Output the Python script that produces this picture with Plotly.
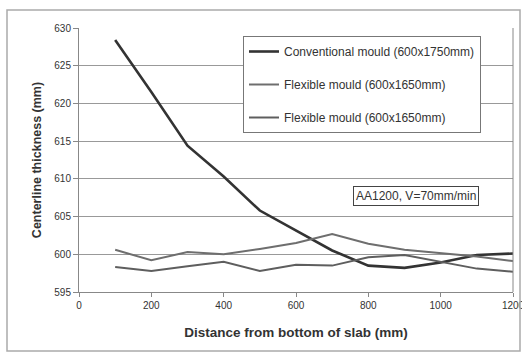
import plotly.graph_objects as go

distance = [100, 200, 300, 400, 500, 600, 700, 800, 900, 1000, 1100, 1200]
conventional = [628.4, 621.5, 614.4, 610.3, 605.8, 603.2, 600.5, 598.5, 598.2, 598.9, 599.9, 600.1]
flexible_1 = [600.6, 599.2, 600.3, 600.0, 600.7, 601.5, 602.7, 601.4, 600.6, 600.2, 599.7, 599.1]
flexible_2 = [598.3, 597.8, 598.4, 599.0, 597.8, 598.6, 598.5, 599.6, 599.9, 599.0, 598.1, 597.7]

names = ["Conventional mould (600x1750mm)", "Flexible mould (600x1650mm)", "Flexible mould (600x1650mm)"]
x_ticks = [0, 200, 400, 600, 800, 1000, 1200]
y_ticks = [595, 600, 605, 610, 615, 620, 625, 630]

# target plot area in page pixels
L, R, T, B = 79, 513, 28, 292
W, H = R - L, B - T


def px(x):
    return (x - L) / W


def py(y):
    return (B - y) / H


fig = go.Figure()
fig.add_trace(go.Scatter(x=distance, y=conventional, mode="lines", name=names[0],
                         line=dict(color="#333333", width=2.6), legendgroup="a"))
fig.add_trace(go.Scatter(x=distance, y=flexible_1, mode="lines", name=names[1],
                         line=dict(color="#6e6e6e", width=2), legendgroup="b"))
fig.add_trace(go.Scatter(x=distance, y=flexible_2, mode="lines", name=names[2],
                         line=dict(color="#5e5e5e", width=2), legendgroup="c"))

fig.update_layout(
    width=522, height=354,
    margin=dict(l=L, r=522 - R, t=T, b=354 - B, autoexpand=False),
    paper_bgcolor="white", plot_bgcolor="white",
    font=dict(family="Liberation Sans, Arial, sans-serif", size=10, color="#333333"),
    legend=dict(x=px(243), y=py(36), xanchor="left", yanchor="top",
                bordercolor="#777777", borderwidth=1, bgcolor="white",
                font=dict(size=12, color="#333333"), tracegroupgap=14,
                itemwidth=30),
    xaxis=dict(range=[0, 1200], tickvals=x_ticks, showgrid=False, automargin=False,
               showline=True, linecolor="#888888", linewidth=1,
               ticks="outside", ticklen=4, tickcolor="#888888",
               ticklabeloverflow="allow",
               mirror=False, zeroline=False,
               title=dict(text="<b>Distance from bottom of slab (mm)</b>",
                          font=dict(size=13.5, color="#333333"), standoff=17)),
    yaxis=dict(range=[595, 630], tickvals=y_ticks, showgrid=True, automargin=False,
               gridcolor="#999999", gridwidth=1,
               showline=True, linecolor="#888888", linewidth=1,
               ticks="outside", ticklen=5, tickcolor="#888888", zeroline=False,
               title=dict(text="<b>Centerline thickness (mm)</b>",
                          font=dict(size=12.5, color="#333333"), standoff=9)),
)

# right border of plot area
fig.add_shape(type="line", xref="paper", yref="paper", x0=1, x1=1, y0=0, y1=1,
              line=dict(color="#888888", width=1))
# outer chart border
fig.add_shape(type="rect", xref="paper", yref="paper",
              x0=px(7), x1=px(520), y0=py(351), y1=py(10),
              line=dict(color="#aaaaaa", width=1.5))

fig.add_annotation(xref="paper", yref="paper", x=px(415.5), y=py(196),
                   xanchor="center", yanchor="middle",
                   text="AA1200, V=70mm/min", showarrow=False,
                   font=dict(size=12, color="#333333"),
                   bordercolor="#444444", borderwidth=1, borderpad=2, bgcolor="white")

fig.write_html("out.html", config={"displayModeBar": False},
               post_script="document.body.style.margin='0';document.body.style.overflow='hidden';")
